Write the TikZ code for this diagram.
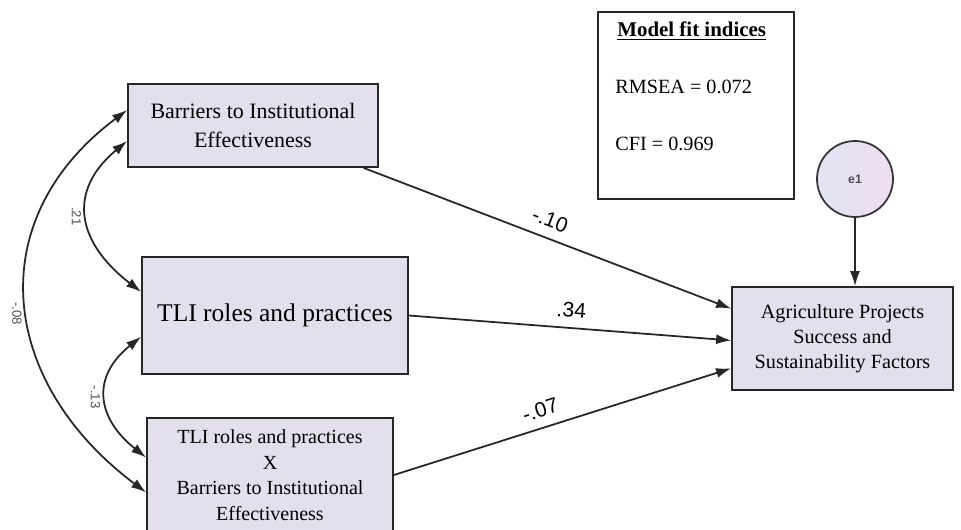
\documentclass[tikz,border=0pt]{standalone}
\usepackage{fontspec}
\setmainfont{Liberation Serif}
\setsansfont{Liberation Sans}
\usetikzlibrary{arrows.meta}
\definecolor{boxfill}{RGB}{228,223,236}
\definecolor{circtop}{RGB}{226,228,243}
\definecolor{circbot}{RGB}{240,222,242}
\definecolor{covgray}{RGB}{80,80,80}

\begin{document}
\begin{tikzpicture}[x=0.02cm, y=-0.02cm,
  var/.style={draw=black!85, fill=boxfill, line width=1pt, align=center, inner sep=0pt},
  err/.style={circle, draw=black!80, line width=1pt, left color=circtop, right color=circbot, inner sep=0pt, minimum size=1.52cm},
  path/.style={line width=1pt, draw=black!85, -{Latex[length=3mm,width=2mm]}},
  cov/.style={line width=1pt, draw=black!85, {Latex[length=3mm,width=2mm]}-{Latex[length=3mm,width=2mm]}},
  est/.style={font=\sffamily\fontsize{12}{14}\selectfont, inner sep=0pt, outer sep=6pt},
  corr/.style={font=\sffamily\fontsize{7.5}{8}\selectfont, text=covgray, inner sep=3pt}]
  \useasboundingbox[fill=white] (0,0) rectangle (961,530);
  % variables
  \node[var, minimum width=5cm, minimum height=1.66cm, font=\fontsize{12.5}{16}\selectfont] (bie) at (253,125.5) {Barriers to Institutional\\Effectiveness};
  \node[var, minimum width=5.32cm, minimum height=2.34cm, font=\fontsize{14.5}{16}\selectfont] (tli) at (275,315.5) {TLI roles and practices};
  \node[var, minimum width=4.92cm, minimum height=2.28cm, font=\fontsize{11.4}{14.5}\selectfont] (int) at (270,475) {TLI roles and practices\\X\\Barriers to Institutional\\Effectiveness};
  \node[var, minimum width=4.42cm, minimum height=2.06cm, font=\fontsize{11.5}{14.2}\selectfont] (aps) at (842.5,338.5) {Agriculture Projects\\Success and\\Sustainability Factors};
  \node[err, font=\sffamily\bfseries\fontsize{7}{8}\selectfont, text=black!70] (e1) at (855,179) {e1};
  % fit box
  \node[draw=black!85, line width=1pt, minimum width=3.92cm, minimum height=3.74cm] (fit) at (696,105.5) {};
  \node[anchor=base west, inner sep=0pt, font=\bfseries\fontsize{11.9}{14}\selectfont] (fittitle) at (617,37) {\underline{Model fit indices}};
  \node[anchor=base west, inner sep=0pt, font=\fontsize{11.5}{14}\selectfont] (rmsea) at (615,94) {RMSEA = 0.072};
  \node[anchor=base west, inner sep=0pt, font=\fontsize{11.5}{14}\selectfont] (cfi) at (615,151) {CFI = 0.969};
  % regression paths
  \draw[path] (bie) -- (aps.165) node[est, pos=0.49, sloped, above] {-.10};
  \draw[path] (tli.east) -- (aps.181) node[est, pos=0.5, sloped, above] {.34};
  \draw[path] (int.east) -- (aps.195) node[est, pos=0.45, sloped, above] {-.07};
  \draw[path] (e1) -- (e1 |- aps.north); % error term
  % covariances
  \draw[cov] (bie.187) .. controls +(-60,50) and +(-65,-50) .. (tli.170) node[corr, pos=0.5, anchor=north, rotate=-90] {.21};
  \draw[cov] (tli.189) .. controls +(-50,40) and +(-50,-40) .. (int.172) node[corr, pos=0.5, anchor=north, rotate=-90] {-.13};
  \draw[cov] (bie.173) .. controls +(-147,110) and +(-147,-110) .. (int.188) node[corr, pos=0.53, anchor=north, rotate=-90] {-.08};
\end{tikzpicture}
\end{document}
